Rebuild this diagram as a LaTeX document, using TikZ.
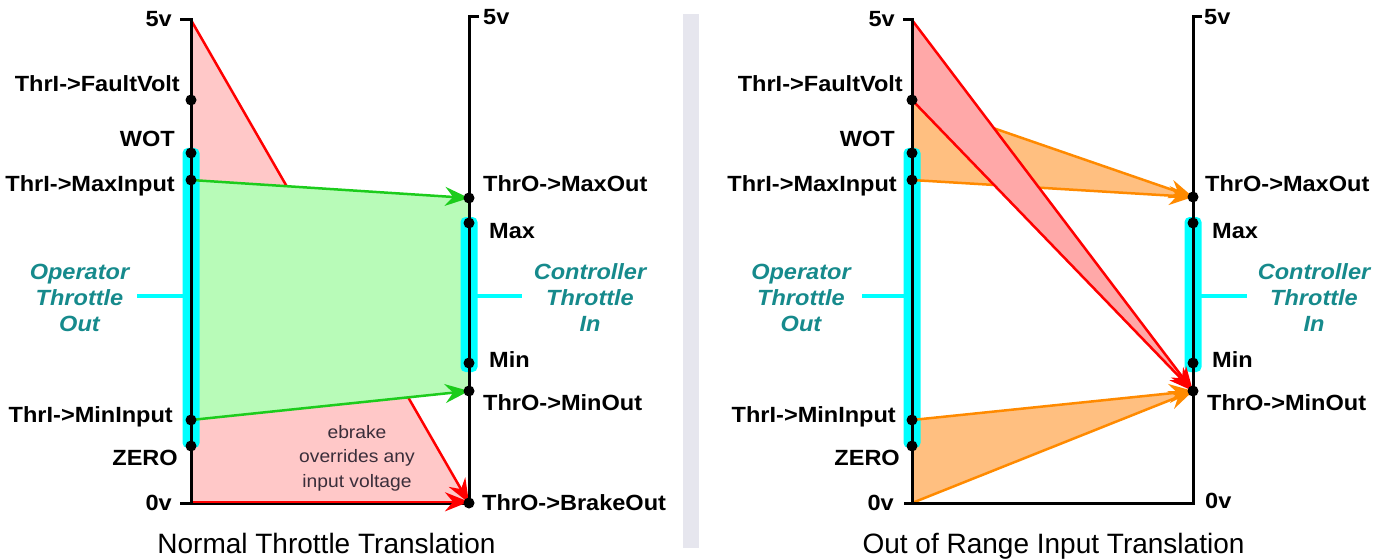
\documentclass[tikz,border=0pt]{standalone}
\usepackage{fontspec}
\setmainfont{Liberation Sans}
\newfontfamily\labfont[FakeStretch=1.07]{Liberation Sans}
\usetikzlibrary{arrows.meta}
\definecolor{redline}{HTML}{FF0000}
\definecolor{pinkA}{HTML}{FFC8C8}
\definecolor{pinkB}{HTML}{FFA8A8}
\definecolor{greenfill}{HTML}{B8FBB8}
\definecolor{greenline}{HTML}{1CCC1C}
\definecolor{orangefill}{HTML}{FFBF80}
\definecolor{orangeline}{HTML}{FF8A00}
\definecolor{barcyan}{HTML}{00FFFF}
\definecolor{tealtext}{HTML}{168A8C}
\definecolor{divgray}{HTML}{E6E6EE}
\definecolor{notetext}{HTML}{3A2E3A}
\begin{document}
\begin{tikzpicture}[x=1pt,y=-1pt,
  axisline/.style={line width=3pt,black},
  cbar/.style={barcyan,rounded corners=5pt},
  cstub/.style={line width=4.5pt,barcyan},
  pdot/.style={circle,fill=black,inner sep=0pt,minimum size=11pt},
  lab/.style={font=\labfont\bfseries\fontsize{22}{26}\selectfont,inner sep=0pt,text=black},
  sidelab/.style={font=\labfont\bfseries\itshape\fontsize{22}{26}\selectfont,text=tealtext,align=center,inner sep=0pt},
  ttlstyle/.style={font=\fontsize{28}{32}\selectfont,inner sep=0pt},
  notelab/.style={font=\labfont\fontsize{18}{24.5}\selectfont,text=notetext,align=center,inner sep=0pt},
  arrowtip/.style={-{Stealth[length=24pt,width=19pt,inset=8pt]}},
  garrow/.style={arrowtip,draw=greenline,line width=2.5pt},
  rarrow/.style={arrowtip,draw=redline,line width=2.5pt},
  oarrow/.style={arrowtip,draw=orangeline,line width=2.5pt},
]
\useasboundingbox (0,0) rectangle (1385,559);

% divider
\fill[divgray] (683,14) rectangle (699,548);

% ---------------- left panel ----------------
\coordinate (L5) at (191,20);
\coordinate (Lfv) at (191,100);
\coordinate (Lwot) at (191,153);
\coordinate (Lmaxi) at (191,180);
\coordinate (Lmini) at (191,420);
\coordinate (Lzero) at (191,446);
\coordinate (L0) at (191,503);
\coordinate (R5) at (469,17);
\coordinate (Rmaxo) at (469,198);
\coordinate (Rmax) at (469,223);
\coordinate (Rmin) at (469,363);
\coordinate (Rmino) at (469,391);
\coordinate (Rbrake) at (469,503);

\fill[pinkA] (L5) -- (Rbrake) -- (L0) -- cycle;
\draw[axisline] (L0) -- (Rbrake);
\draw[rarrow] (L5) -- (Rbrake);
\draw[rarrow] ([yshift=1.2pt]L0) -- ([yshift=1.2pt]Rbrake);
\fill[greenfill] (Lmaxi) -- (Rmaxo) -- (Rmino) -- (Lmini) -- cycle;

\fill[cbar] (182.5,148) rectangle (199.5,448);
\fill[cbar] (460.5,217) rectangle (477.5,372);
\draw[cstub] (137,296) -- (183,296);
\draw[cstub] (477,296) -- (522,296);

\draw[garrow] (Lmaxi) -- (Rmaxo);
\draw[garrow] (Lmini) -- (Rmino);

\draw[axisline] (180,20) -- (L5) -- (L0) -- (180,503);
\draw[axisline] (479,17) -- (R5) -- (Rbrake);

\foreach \p in {Lfv,Lwot,Lmaxi,Lmini,Lzero,Rmaxo,Rmax,Rmin,Rmino,Rbrake}
  \node[pdot] (\p dot) at (\p) {};

\node[lab,anchor=base east] (tL5) at (172,27) {5v};
\node[lab,anchor=base east] (tLfv) at (180,92) {ThrI->FaultVolt};
\node[lab,anchor=base east] (tLwot) at (175,147) {WOT};
\node[lab,anchor=base east] (tLmaxi) at (175,192) {ThrI->MaxInput};
\node[lab,anchor=base east] (tLmini) at (173,422) {ThrI->MinInput};
\node[lab,anchor=base east] (tLzero) at (178,465) {ZERO};
\node[lab,anchor=base east] (tL0) at (172,510) {0v};
\node[lab,anchor=base west] (tR5) at (483,25) {5v};
\node[lab,anchor=base west] (tRmaxo) at (483,192) {ThrO->MaxOut};
\node[lab,anchor=base west] (tRmax) at (489,238) {Max};
\node[lab,anchor=base west] (tRmin) at (489,367) {Min};
\node[lab,anchor=base west] (tRmino) at (483,410) {ThrO->MinOut};
\node[lab,anchor=base west] (tRbrake) at (482,510) {ThrO->BrakeOut};

\node[sidelab,anchor=base] (opL) at (79.5,331) {Operator\\Throttle\\Out};
\node[sidelab,anchor=base] (ctL) at (590,331) {Controller\\Throttle\\In};
\node[notelab,anchor=base] (note) at (357,487) {ebrake\\overrides any\\input voltage};
\node[ttlstyle,anchor=base] (ttlL) at (326.5,553) {Normal Throttle Translation};

% ---------------- right panel ----------------
\coordinate (P5) at (912,20);
\coordinate (Pfv) at (912,100);
\coordinate (Pwot) at (912,153);
\coordinate (Pmaxi) at (912,180);
\coordinate (Pmini) at (912,420);
\coordinate (Pzero) at (912,446);
\coordinate (P0) at (912,503);
\coordinate (Q5) at (1193,17);
\coordinate (Qmaxo) at (1193,197);
\coordinate (Qmax) at (1193,223);
\coordinate (Qmin) at (1193,363);
\coordinate (Qmino) at (1193,391);
\coordinate (Q0) at (1193,503);

\fill[orangefill] (Pfv) -- (Qmaxo) -- (Pmaxi) -- cycle;
\fill[orangefill] (Pmini) -- (Qmino) -- (P0) -- cycle;

\fill[cbar] (903.5,148) rectangle (920.5,448);
\fill[cbar] (1184.5,217) rectangle (1201.5,372);
\draw[cstub] (862,296) -- (904,296);
\draw[cstub] (1201,296) -- (1247,296);

\draw[oarrow] (Pfv) -- (Qmaxo);
\draw[oarrow] (Pmaxi) -- (Qmaxo);
\draw[oarrow] (Pmini) -- (Qmino);
\draw[oarrow] (P0) -- (Qmino);
\fill[pinkB] (P5) -- (Qmino) -- (Pfv) -- cycle;
\draw[rarrow] (P5) -- (Qmino);
\draw[rarrow] (Pfv) -- (Qmino);

\draw[axisline] (903,20) -- (P5) -- (P0);
\draw[axisline] (904,503) -- (Q0) -- (Q5) -- (1202,17);

\foreach \p in {Pfv,Pwot,Pmaxi,Pmini,Pzero,Qmaxo,Qmax,Qmin,Qmino}
  \node[pdot] (\p dot) at (\p) {};

\node[lab,anchor=base east] (tP5) at (895,27) {5v};
\node[lab,anchor=base east] (tPfv) at (903,92) {ThrI->FaultVolt};
\node[lab,anchor=base east] (tPwot) at (895,147) {WOT};
\node[lab,anchor=base east] (tPmaxi) at (897,192) {ThrI->MaxInput};
\node[lab,anchor=base east] (tPmini) at (896,422) {ThrI->MinInput};
\node[lab,anchor=base east] (tPzero) at (900,465) {ZERO};
\node[lab,anchor=base east] (tP0) at (894,510) {0v};
\node[lab,anchor=base west] (tQ5) at (1204,25) {5v};
\node[lab,anchor=base west] (tQmaxo) at (1205,192) {ThrO->MaxOut};
\node[lab,anchor=base west] (tQmax) at (1212,238) {Max};
\node[lab,anchor=base west] (tQmin) at (1212,367) {Min};
\node[lab,anchor=base west] (tQmino) at (1207,410) {ThrO->MinOut};
\node[lab,anchor=base west] (tQ0) at (1205,508) {0v};

\node[sidelab,anchor=base] (opR) at (801,331) {Operator\\Throttle\\Out};
\node[sidelab,anchor=base] (ctR) at (1314,331) {Controller\\Throttle\\In};
\node[ttlstyle,anchor=base] (ttlR) at (1053.5,553) {Out of Range Input Translation};
\end{tikzpicture}
\end{document}
